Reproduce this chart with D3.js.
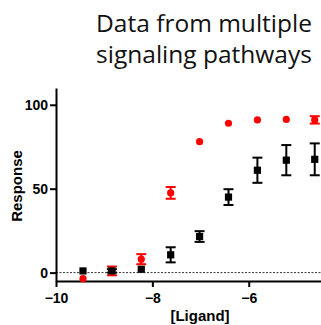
<!DOCTYPE html>
<html>
<head>
<meta charset="utf-8">
<script src="https://cdn.jsdelivr.net/npm/d3@7"></script>
<style>
  body { margin: 0; background: #fff; }
  svg { display: block; }
</style>
</head>
<body>
<svg id="chart"></svg>
<script>
const logConc = [-9.44, -8.84, -8.23, -7.62, -7.02, -6.42, -5.82, -5.22, -4.63];
const redMean = [-3.6, 1, 8, 47.5, 78, 89, 91, 91.3, 91];
const redErr = [0, 2.6, 3, 3.5, 0, 0, 0, 0, 2.2];
const blackMean = [1, 1, 2, 10.6, 21.5, 45, 61, 67, 67.5];
const blackErr = [0, 1, 0, 4.5, 3.2, 4.7, 7.5, 9, 9.5];
const xTicks = [-10, -8, -6];
const yTicks = [0, 50, 100];
const titleLines = ['Data from multiple', 'signaling pathways'];

const width = 321;
const height = 325;
const margin = { top: 88, right: 0, bottom: 44, left: 56 };
const plotW = width - margin.left - margin.right;
const plotH = height - margin.top - margin.bottom;

const svg = d3.select('#chart')
  .attr('width', width)
  .attr('height', height);

const g = svg.append('g')
  .attr('transform', `translate(${margin.left},${margin.top})`);

const xScale = d3.scaleLinear()
  .domain([-10, -4.5])
  .range([0, plotW]);

const yScale = d3.scaleLinear()
  .domain([-5, 110])
  .range([plotH, 0]);

// title
svg.append('g')
  .selectAll('text')
  .data(titleLines)
  .enter()
  .append('text')
  .attr('x', 204)
  .attr('y', (d, i) => 32 + i * 31)
  .attr('text-anchor', 'middle')
  .attr('font-family', '"Open Sans", sans-serif')
  .attr('font-size', 24.5)
  .attr('fill', '#111')
  .text(d => d);

// dotted zero line
g.append('line')
  .attr('x1', 0)
  .attr('x2', plotW)
  .attr('y1', yScale(0))
  .attr('y2', yScale(0))
  .attr('stroke', '#333')
  .attr('stroke-width', 1)
  .attr('stroke-dasharray', '2,1.5');

const xAxis = d3.axisBottom(xScale)
  .tickValues(xTicks)
  .tickSize(6)
  .tickSizeOuter(0)
  .tickFormat(d3.format('d'));

const yAxis = d3.axisLeft(yScale)
  .tickValues(yTicks)
  .tickSize(6)
  .tickSizeOuter(0)
  .tickPadding(2);

const xg = g.append('g')
  .attr('transform', `translate(0,${plotH})`)
  .call(xAxis);

const yg = g.append('g')
  .call(yAxis);

[xg, yg].forEach(ax => {
  ax.select('.domain').attr('stroke', '#000').attr('stroke-width', 2);
  ax.selectAll('.tick line').attr('stroke', '#000').attr('stroke-width', 2);
  ax.selectAll('.tick text')
    .attr('font-family', '"Liberation Sans", Arial, sans-serif')
    .attr('font-weight', 'bold')
    .attr('font-size', 14)
    .attr('fill', '#000');
});
xg.selectAll('.tick text').attr('dy', '0.95em');

// axis titles
svg.append('text')
  .attr('transform', `translate(22,186) rotate(-90)`)
  .attr('text-anchor', 'middle')
  .attr('font-family', '"Liberation Sans", Arial, sans-serif')
  .attr('font-weight', 'bold')
  .attr('font-size', 15)
  .text('Response');

svg.append('text')
  .attr('x', 200)
  .attr('y', 321)
  .attr('text-anchor', 'middle')
  .attr('font-family', '"Liberation Sans", Arial, sans-serif')
  .attr('font-weight', 'bold')
  .attr('font-size', 15)
  .text('[Ligand]');

const drawSeries = (means, errs, color, shape) => {
  const pts = logConc.map((x, i) => ({ x, y: means[i], e: errs[i] }));
  const s = g.append('g');
  const eb = s.selectAll('g.err')
    .data(pts.filter(d => d.e > 0))
    .enter()
    .append('g')
    .attr('stroke', color)
    .attr('stroke-width', 2);
  eb.append('line')
    .attr('x1', d => xScale(d.x))
    .attr('x2', d => xScale(d.x))
    .attr('y1', d => yScale(d.y - d.e))
    .attr('y2', d => yScale(d.y + d.e));
  [-1, 1].forEach(sign => {
    eb.append('line')
      .attr('x1', d => xScale(d.x) - 5)
      .attr('x2', d => xScale(d.x) + 5)
      .attr('y1', d => yScale(d.y + sign * d.e))
      .attr('y2', d => yScale(d.y + sign * d.e));
  });
  if (shape === 'circle') {
    s.selectAll('circle')
      .data(pts)
      .enter()
      .append('circle')
      .attr('cx', d => xScale(d.x))
      .attr('cy', d => yScale(d.y))
      .attr('r', 3.6)
      .attr('fill', color);
  } else {
    s.selectAll('rect')
      .data(pts)
      .enter()
      .append('rect')
      .attr('x', d => xScale(d.x) - 3.6)
      .attr('y', d => yScale(d.y) - 3.6)
      .attr('width', 7.2)
      .attr('height', 7.2)
      .attr('fill', color);
  }
};

drawSeries(redMean, redErr, '#f00', 'circle');
drawSeries(blackMean, blackErr, '#000', 'square');
</script>
</body>
</html>
